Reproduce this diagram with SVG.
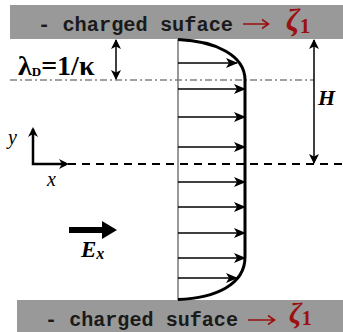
<svg xmlns="http://www.w3.org/2000/svg" width="343" height="332" viewBox="0 0 343 332">
<style>
.wall{fill:#999999}
.mono{font-family:"Liberation Mono","Courier New",monospace;font-weight:bold;font-size:20px;fill:#1a1a1a}
.red{fill:#9b1111;font-family:"Liberation Serif","Times New Roman",serif}
.redarr{stroke:#9b1111;stroke-width:1.6;fill:none}
.ser{font-family:"Liberation Serif","Times New Roman",serif;fill:#000}
.arr{stroke:#000;stroke-width:1.5;fill:none;marker-end:url(#ah)}
</style>
<defs>
<marker id="ah" viewBox="0 0 12 10" refX="11" refY="5" markerWidth="12" markerHeight="10" markerUnits="userSpaceOnUse" orient="auto-start-reverse">
<path d="M0,0 L12,5 L0,10 L3,5 Z" fill="#000"/>
</marker>
<marker id="ah2" viewBox="0 0 10 10" refX="9" refY="5" markerWidth="10" markerHeight="10" markerUnits="userSpaceOnUse" orient="auto-start-reverse">
<path d="M0,0 L10,5 L0,10 L2.5,5 Z" fill="#000"/>
</marker>
</defs>

<g id="top-surface">
<rect class="wall" x="10" y="5" width="333" height="34"/>
<text class="mono" x="38" y="31" textLength="195" lengthAdjust="spacingAndGlyphs">- charged suface</text>
<path class="redarr" d="M243,24 L268,24 M262,19.5 L268.5,24 L262,28.5"/>
<text class="red" x="286" y="31" font-size="31" font-weight="bold" font-style="italic">ζ<tspan font-size="21" font-style="normal" dy="2">1</tspan></text>
</g>

<g id="bottom-surface">
<rect class="wall" x="17" y="300" width="326" height="32"/>
<text class="mono" x="45" y="326" textLength="193" lengthAdjust="spacingAndGlyphs">- charged suface</text>
<path class="redarr" d="M248,320 L274,320 M268,315.5 L274.5,320 L268,324.5"/>
<text class="red" x="289" y="323" font-size="29" font-weight="bold" font-style="italic">ζ<tspan font-size="20" font-style="normal" dy="2">1</tspan></text>
</g>

<g id="reference-lines">
<line x1="10" y1="80" x2="314" y2="80" stroke="#444" stroke-width="1.2" stroke-dasharray="7,3,2,3"/>
<line x1="68" y1="164" x2="343" y2="164" stroke="#000" stroke-width="2" stroke-dasharray="8,6"/>
</g>

<g id="profile">
<line x1="178" y1="39" x2="178" y2="300" stroke="#777" stroke-width="1.5"/>
<path d="M178,39.5 C215,41 245,55 245,80 L245,257 C245,285 215,298 178,299.5" fill="none" stroke="#000" stroke-width="3"/>
</g>

<g id="velocity-arrows">
<line class="arr" x1="178" y1="63" x2="237" y2="63"/>
<line class="arr" x1="178" y1="89" x2="245" y2="89"/>
<line class="arr" x1="178" y1="117" x2="245" y2="117"/>
<line class="arr" x1="178" y1="147" x2="245" y2="147"/>
<line class="arr" x1="178" y1="182" x2="245" y2="182"/>
<line class="arr" x1="178" y1="207" x2="245" y2="207"/>
<line class="arr" x1="178" y1="233" x2="245" y2="233"/>
<line class="arr" x1="178" y1="258" x2="245" y2="258"/>
<line class="arr" x1="178" y1="278" x2="237" y2="278"/>
</g>

<g id="connectors">
<line x1="116" y1="40" x2="116" y2="79" stroke="#000" stroke-width="1.5" marker-start="url(#ah2)" marker-end="url(#ah2)"/>
<line x1="314" y1="40" x2="314" y2="163" stroke="#000" stroke-width="1.5" marker-start="url(#ah2)" marker-end="url(#ah2)"/>
<line x1="69" y1="230" x2="106" y2="230" stroke="#000" stroke-width="6"/>
<path d="M102,221 L117,230 L102,239 Z" fill="#000"/>
</g>

<g id="axes">
<path d="M33,129 L33,164 L66,164" fill="none" stroke="#000" stroke-width="2.5"/>
<path d="M33,127 L28,137 L33,134 L38,137 Z" fill="#000"/>
<path d="M69,164 L59,159 L62,164 L59,169 Z" fill="#000"/>
<text class="ser" x="8" y="144" font-size="20" font-style="italic">y</text>
<text class="ser" x="47" y="186" font-size="20" font-style="italic">x</text>
</g>

<g id="labels">
<text class="ser" x="18" y="75" font-size="28" font-weight="bold">λ<tspan font-size="13" dy="1">D</tspan><tspan dy="-1">=1/κ</tspan></text>
<text class="ser" x="318" y="105" font-size="22" font-weight="bold" font-style="italic">H</text>
<text class="ser" x="81" y="257" font-size="23" font-weight="bold" font-style="italic">E<tspan font-size="16" dy="2">x</tspan></text>
</g>
</svg>
